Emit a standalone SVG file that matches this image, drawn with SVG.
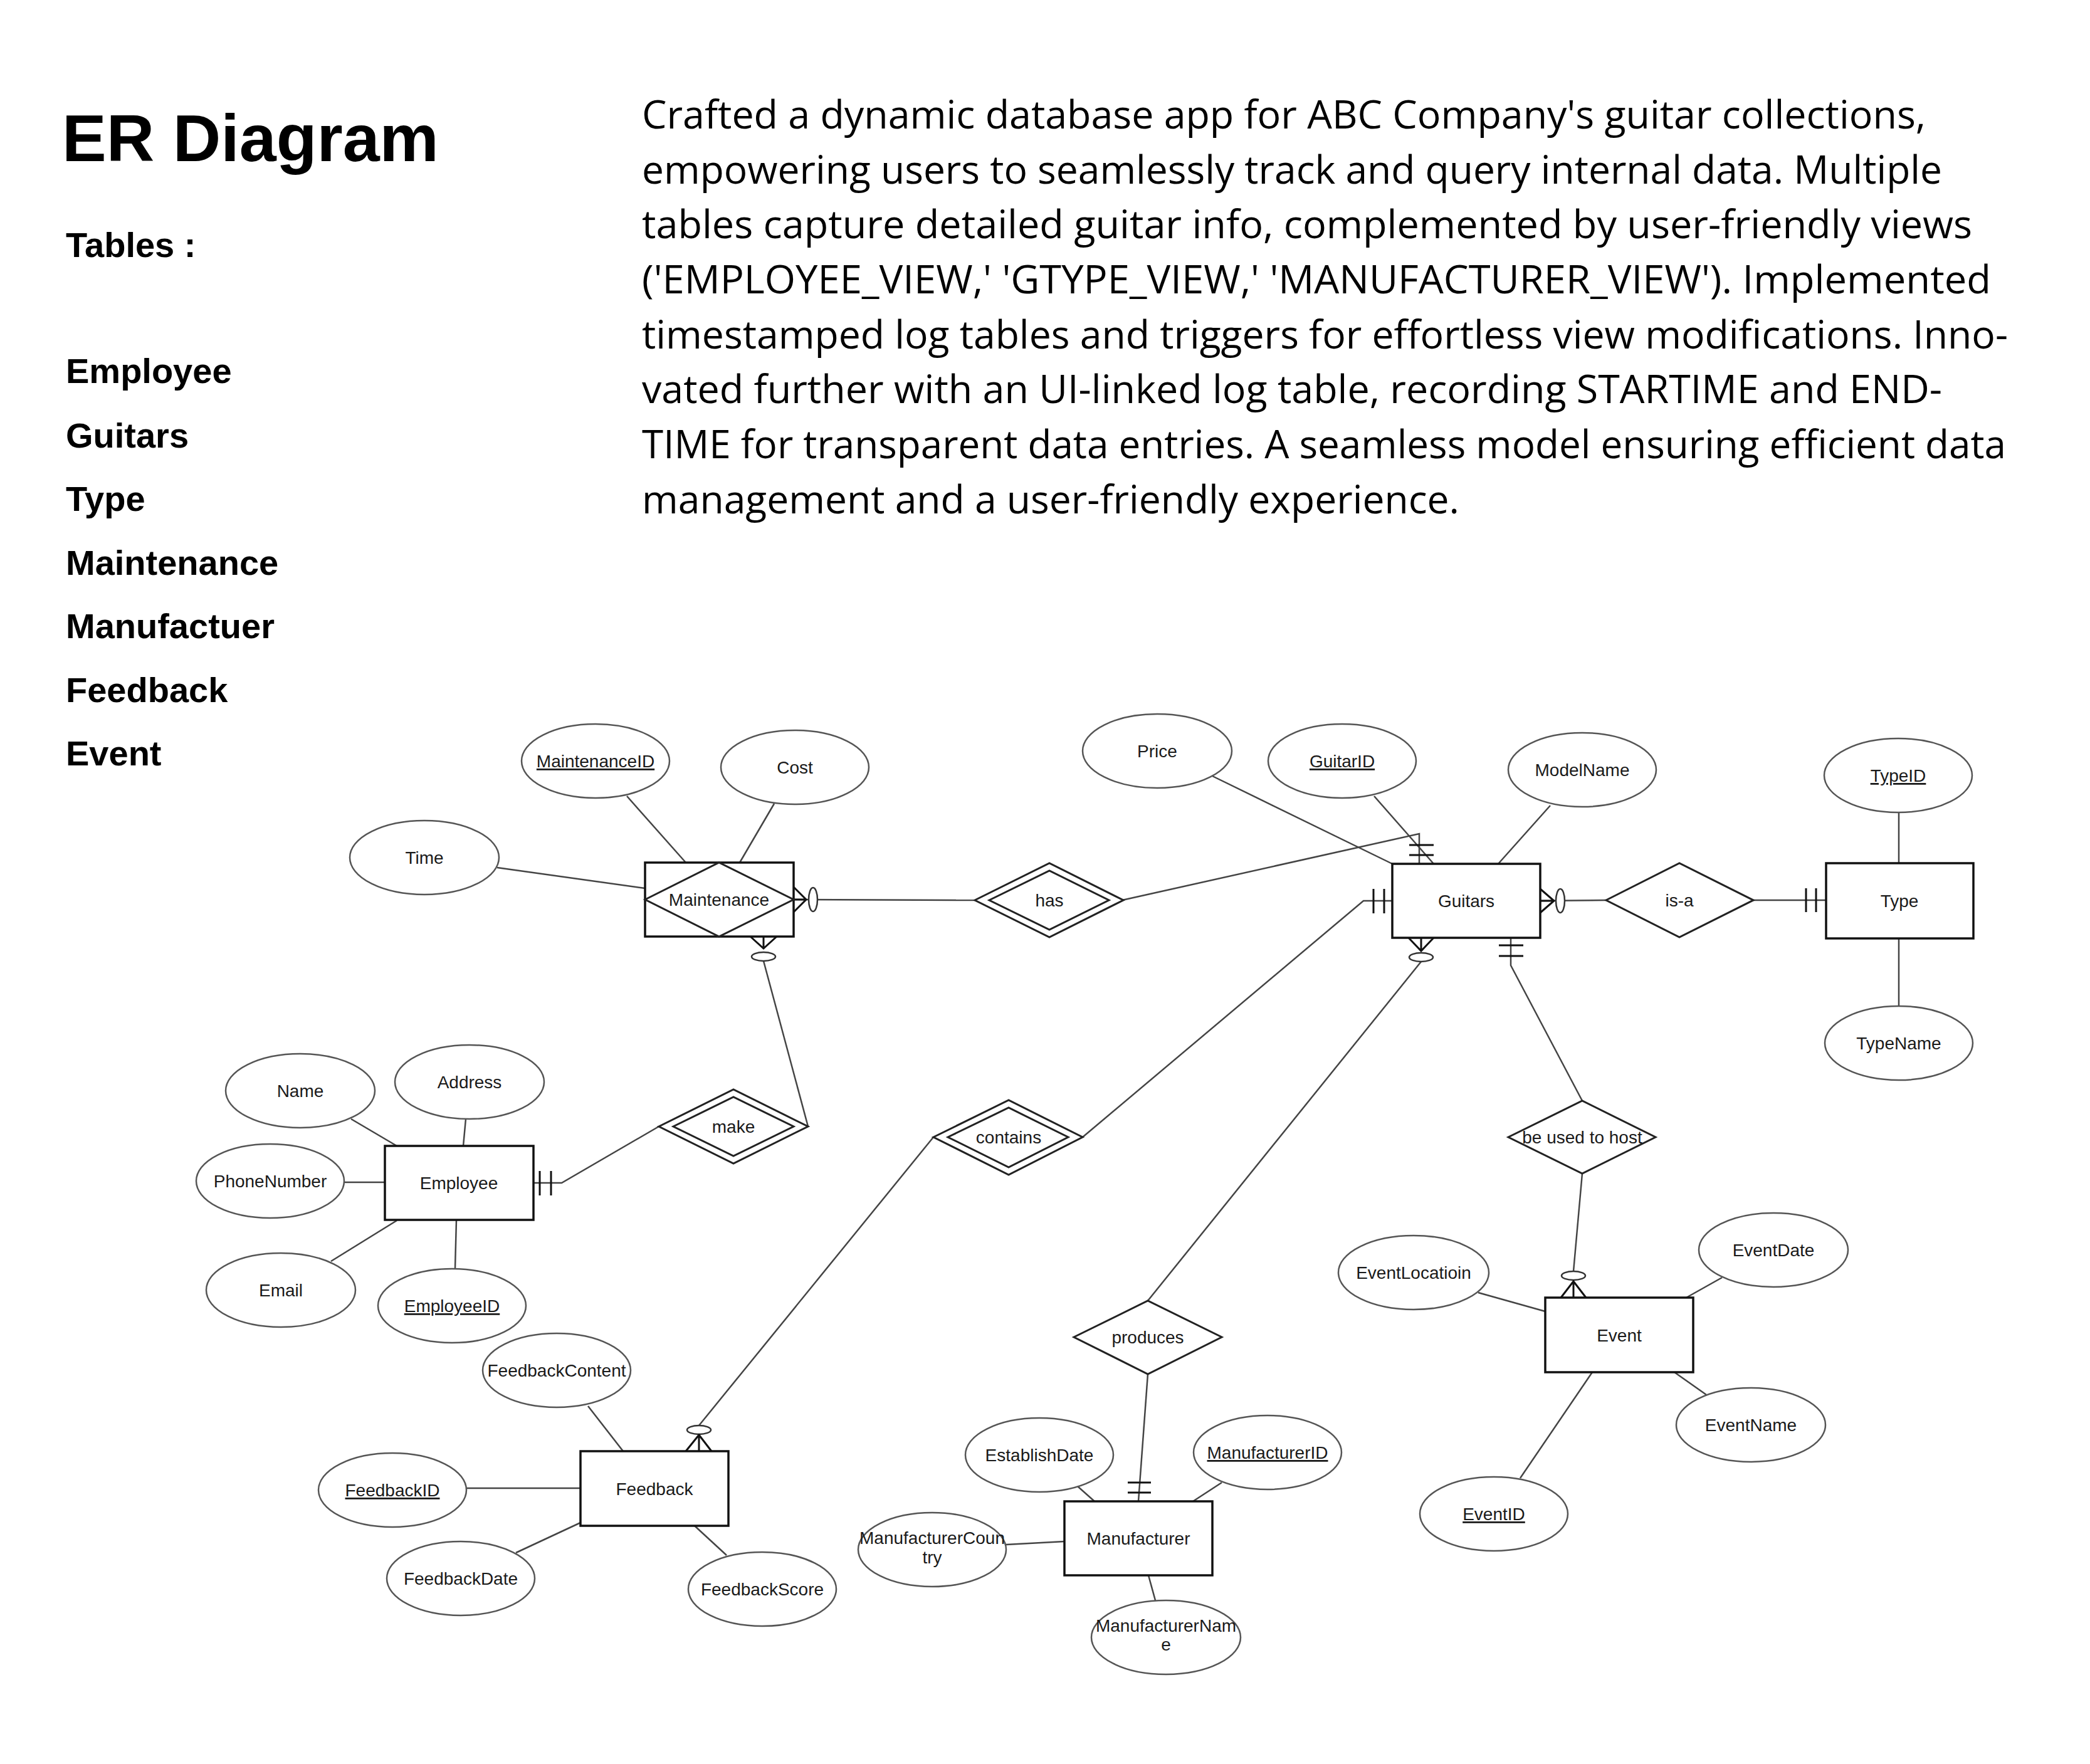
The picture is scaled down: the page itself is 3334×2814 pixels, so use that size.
<svg xmlns="http://www.w3.org/2000/svg" width="3334" height="2814" viewBox="0 0 3334 2814">
<style>
.t{font-family:"Liberation Sans",Arial,sans-serif;font-size:28px;fill:#1a1a1a;text-anchor:middle}
.u{text-decoration:underline}
.attr{fill:#fff;stroke:#555;stroke-width:2.5}
.ent{fill:#fff;stroke:#111;stroke-width:3.5}
.rel{fill:#fff;stroke:#222;stroke-width:3}
.ln{fill:none;stroke:#444;stroke-width:2.5}
.mk{fill:none;stroke:#111;stroke-width:3}
.o{fill:#fff;stroke:#333;stroke-width:2.5}
.side{font-family:"Liberation Sans",Arial,sans-serif;font-weight:bold;fill:#000}
.para{font-family:"Open Sans","Noto Sans",sans-serif;font-size:62px;fill:#000}
</style>
<rect x="0" y="0" width="3334" height="2814" fill="#fff"/>

<g id="heading">
<text class="side" x="99" y="257" font-size="106">ER Diagram</text>
<text class="side" x="105" y="410" font-size="56">Tables :</text>
<text class="side" x="105" y="611" font-size="56">Employee</text>
<text class="side" x="105" y="714" font-size="56">Guitars</text>
<text class="side" x="105" y="815" font-size="56">Type</text>
<text class="side" x="105" y="917" font-size="56">Maintenance</text>
<text class="side" x="105" y="1018" font-size="56">Manufactuer</text>
<text class="side" x="105" y="1120" font-size="56">Feedback</text>
<text class="side" x="105" y="1221" font-size="56">Event</text>
</g>

<g id="description">
<text class="para" x="1024" y="205" textLength="2048" lengthAdjust="spacingAndGlyphs">Crafted a dynamic database app for ABC Company's guitar collections,</text>
<text class="para" x="1024" y="293" textLength="2074" lengthAdjust="spacingAndGlyphs">empowering users to seamlessly track and query internal data. Multiple</text>
<text class="para" x="1024" y="380" textLength="2122" lengthAdjust="spacingAndGlyphs">tables capture detailed guitar info, complemented by user-friendly views</text>
<text class="para" x="1024" y="468" textLength="2152" lengthAdjust="spacingAndGlyphs">('EMPLOYEE_VIEW,' 'GTYPE_VIEW,' 'MANUFACTURER_VIEW'). Implemented</text>
<text class="para" x="1024" y="556" textLength="2179" lengthAdjust="spacingAndGlyphs">timestamped log tables and triggers for effortless view modifications. Inno-</text>
<text class="para" x="1024" y="643" textLength="2074" lengthAdjust="spacingAndGlyphs">vated further with an UI-linked log table, recording STARTIME and END-</text>
<text class="para" x="1024" y="731" textLength="2176" lengthAdjust="spacingAndGlyphs">TIME for transparent data entries. A seamless model ensuring efficient data</text>
<text class="para" x="1024" y="819" textLength="1304" lengthAdjust="spacingAndGlyphs">management and a user-friendly experience.</text>
</g>

<g id="connectors">
<!-- attribute lines -->
<line class="ln" x1="1000" y1="1270" x2="1094" y2="1376"/>
<line class="ln" x1="1235" y1="1282" x2="1180" y2="1376"/>
<line class="ln" x1="793" y1="1384" x2="1029" y2="1417"/>
<line class="ln" x1="1934" y1="1238" x2="2221" y2="1378"/>
<line class="ln" x1="2192" y1="1270" x2="2287" y2="1378"/>
<line class="ln" x1="2473" y1="1285" x2="2390" y2="1378"/>
<line class="ln" x1="3029" y1="1296" x2="3029" y2="1377"/>
<line class="ln" x1="3029" y1="1497" x2="3029" y2="1605"/>
<line class="ln" x1="560" y1="1785" x2="633" y2="1828"/>
<line class="ln" x1="743" y1="1785" x2="739" y2="1828"/>
<line class="ln" x1="549" y1="1886" x2="614" y2="1886"/>
<line class="ln" x1="528" y1="2012" x2="633" y2="1947"/>
<line class="ln" x1="726" y1="2023" x2="728" y2="1946"/>
<line class="ln" x1="938" y1="2243" x2="994" y2="2315"/>
<line class="ln" x1="744" y1="2374" x2="926" y2="2374"/>
<line class="ln" x1="823" y1="2477" x2="926" y2="2429"/>
<line class="ln" x1="1159" y1="2481" x2="1108" y2="2434"/>
<line class="ln" x1="1719" y1="2371" x2="1746" y2="2395"/>
<line class="ln" x1="1949" y1="2365" x2="1903" y2="2395"/>
<line class="ln" x1="1605" y1="2464" x2="1698" y2="2459"/>
<line class="ln" x1="1832" y1="2513" x2="1843" y2="2553"/>
<line class="ln" x1="2358" y1="2062" x2="2465" y2="2092"/>
<line class="ln" x1="2747" y1="2038" x2="2690" y2="2070"/>
<line class="ln" x1="2722" y1="2225" x2="2671" y2="2189"/>
<line class="ln" x1="2425" y1="2358" x2="2540" y2="2189"/>

<!-- Maintenance - has -->
<line class="ln" x1="1266" y1="1435" x2="1555" y2="1436"/>
<path class="mk" d="M1266,1415 L1286,1435 L1266,1455 M1266,1435 L1286,1435"/>
<ellipse class="o" cx="1297" cy="1435" rx="7" ry="19"/>

<!-- has - Guitars -->
<polyline class="ln" points="1790,1436 2264,1330 2264,1378"/>
<path class="mk" d="M2248,1348 L2287,1348 M2248,1364 L2287,1364"/>

<!-- Guitars - is-a -->
<line class="ln" x1="2457" y1="1437" x2="2562" y2="1436"/>
<path class="mk" d="M2457,1418 L2479,1437 L2457,1456 M2457,1437 L2479,1437"/>
<ellipse class="o" cx="2489" cy="1437" rx="7" ry="19"/>

<!-- is-a - Type -->
<line class="ln" x1="2797" y1="1436" x2="2913" y2="1436"/>
<path class="mk" d="M2881,1417 L2881,1455 M2897,1417 L2897,1455"/>

<!-- Guitars - contains -->
<polyline class="ln" points="2221,1437 2175,1437 1727,1814"/>
<path class="mk" d="M2191,1418 L2191,1457 M2208,1418 L2208,1457"/>

<!-- contains - Feedback -->
<line class="ln" x1="1489" y1="1814" x2="1115" y2="2274"/>
<ellipse class="o" cx="1115" cy="2281" rx="19" ry="7"/>
<path class="mk" d="M1094,2315 L1115,2289 L1135,2315 M1115,2289 L1115,2315"/>

<!-- Guitars - produces -->
<line class="ln" x1="2267" y1="1534" x2="1831" y2="2075"/>
<path class="mk" d="M2247,1496 L2267,1517 L2287,1496 M2267,1496 L2267,1517"/>
<ellipse class="o" cx="2267" cy="1527" rx="19" ry="7"/>

<!-- produces - Manufacturer -->
<line class="ln" x1="1831" y1="2192" x2="1816" y2="2395"/>
<path class="mk" d="M1799,2365 L1836,2365 M1799,2381 L1836,2381"/>

<!-- Guitars - be used to host -->
<polyline class="ln" points="2410,1496 2410,1540 2524,1756"/>
<path class="mk" d="M2391,1508 L2430,1508 M2391,1525 L2430,1525"/>

<!-- be used to host - Event -->
<line class="ln" x1="2524" y1="1872" x2="2510" y2="2028"/>
<ellipse class="o" cx="2510" cy="2035" rx="19" ry="7"/>
<path class="mk" d="M2490,2070 L2510,2044 L2530,2070 M2510,2044 L2510,2070"/>

<!-- Employee - make -->
<polyline class="ln" points="851,1887 896,1887 1051,1797"/>
<path class="mk" d="M861,1868 L861,1907 M879,1868 L879,1907"/>

<!-- make - Maintenance -->
<line class="ln" x1="1289" y1="1797" x2="1218" y2="1533"/>
<ellipse class="o" cx="1218" cy="1526" rx="19" ry="7"/>
<path class="mk" d="M1197,1494 L1218,1513 L1239,1494 M1218,1494 L1218,1513"/>
</g>

<g id="maintenance">
<rect class="ent" x="1029" y="1376" width="237" height="118"/>
<polygon class="rel" points="1029,1435 1147,1376 1266,1435 1147,1494"/>
<text class="t" x="1147" y="1445">Maintenance</text>
</g>
<g id="guitars">
<rect class="ent" x="2221" y="1378" width="236" height="118"/>
<text class="t" x="2339" y="1447">Guitars</text>
</g>
<g id="type">
<rect class="ent" x="2913" y="1377" width="235" height="120"/>
<text class="t" x="3030" y="1447">Type</text>
</g>
<g id="employee">
<rect class="ent" x="614" y="1828" width="237" height="118"/>
<text class="t" x="732" y="1897">Employee</text>
</g>
<g id="event">
<rect class="ent" x="2465" y="2070" width="236" height="119"/>
<text class="t" x="2583" y="2140">Event</text>
</g>
<g id="feedback">
<rect class="ent" x="926" y="2315" width="236" height="119"/>
<text class="t" x="1044" y="2385">Feedback</text>
</g>
<g id="manufacturer">
<rect class="ent" x="1698" y="2395" width="236" height="118"/>
<text class="t" x="1816" y="2464">Manufacturer</text>
</g>

<g id="rel-has">
<polygon class="rel" points="1555,1436 1674,1377 1792,1436 1674,1495"/>
<polygon class="rel" points="1578,1436 1674,1389 1769,1436 1674,1483"/>
<text class="t" x="1674" y="1446">has</text>
</g>
<g id="rel-is-a">
<polygon class="rel" points="2562,1436 2679,1377 2797,1436 2679,1495"/>
<text class="t" x="2679" y="1446">is-a</text>
</g>
<g id="rel-make">
<polygon class="rel" points="1051,1797 1170,1738 1289,1797 1170,1856"/>
<polygon class="rel" points="1074,1797 1170,1750 1266,1797 1170,1844"/>
<text class="t" x="1170" y="1807">make</text>
</g>
<g id="rel-contains">
<polygon class="rel" points="1489,1814 1609,1755 1727,1814 1609,1874"/>
<polygon class="rel" points="1512,1814 1609,1767 1704,1814 1609,1862"/>
<text class="t" x="1609" y="1824">contains</text>
</g>
<g id="rel-produces">
<polygon class="rel" points="1713,2133 1831,2075 1949,2133 1831,2192"/>
<text class="t" x="1831" y="2143">produces</text>
</g>
<g id="rel-host">
<polygon class="rel" points="2406,1814 2524,1756 2641,1814 2524,1872"/>
<text class="t" x="2524" y="1824">be used to host</text>
</g>

<g id="attr-maintenanceid"><ellipse class="attr" cx="950" cy="1214" rx="118" ry="59"/><text class="t u" x="950" y="1224">MaintenanceID</text></g>
<g id="attr-cost"><ellipse class="attr" cx="1268" cy="1224" rx="118" ry="59"/><text class="t" x="1268" y="1234">Cost</text></g>
<g id="attr-time"><ellipse class="attr" cx="677" cy="1368" rx="119" ry="59"/><text class="t" x="677" y="1378">Time</text></g>
<g id="attr-price"><ellipse class="attr" cx="1846" cy="1198" rx="119" ry="59"/><text class="t" x="1846" y="1208">Price</text></g>
<g id="attr-guitarid"><ellipse class="attr" cx="2141" cy="1214" rx="118" ry="59"/><text class="t u" x="2141" y="1224">GuitarID</text></g>
<g id="attr-modelname"><ellipse class="attr" cx="2524" cy="1228" rx="118" ry="59"/><text class="t" x="2524" y="1238">ModelName</text></g>
<g id="attr-typeid"><ellipse class="attr" cx="3028" cy="1237" rx="118" ry="59"/><text class="t u" x="3028" y="1247">TypeID</text></g>
<g id="attr-typename"><ellipse class="attr" cx="3029" cy="1664" rx="118" ry="59"/><text class="t" x="3029" y="1674">TypeName</text></g>
<g id="attr-name"><ellipse class="attr" cx="479" cy="1740" rx="119" ry="59"/><text class="t" x="479" y="1750">Name</text></g>
<g id="attr-address"><ellipse class="attr" cx="749" cy="1726" rx="119" ry="59"/><text class="t" x="749" y="1736">Address</text></g>
<g id="attr-phonenumber"><ellipse class="attr" cx="431" cy="1884" rx="118" ry="59"/><text class="t" x="431" y="1894">PhoneNumber</text></g>
<g id="attr-email"><ellipse class="attr" cx="448" cy="2058" rx="119" ry="59"/><text class="t" x="448" y="2068">Email</text></g>
<g id="attr-employeeid"><ellipse class="attr" cx="721" cy="2083" rx="118" ry="59"/><text class="t u" x="721" y="2093">EmployeeID</text></g>
<g id="attr-feedbackcontent"><ellipse class="attr" cx="888" cy="2186" rx="118" ry="59"/><text class="t" x="888" y="2196">FeedbackContent</text></g>
<g id="attr-feedbackid"><ellipse class="attr" cx="626" cy="2377" rx="118" ry="59"/><text class="t u" x="626" y="2387">FeedbackID</text></g>
<g id="attr-feedbackdate"><ellipse class="attr" cx="735" cy="2518" rx="118" ry="59"/><text class="t" x="735" y="2528">FeedbackDate</text></g>
<g id="attr-feedbackscore"><ellipse class="attr" cx="1216" cy="2535" rx="118" ry="59"/><text class="t" x="1216" y="2545">FeedbackScore</text></g>
<g id="attr-establishdate"><ellipse class="attr" cx="1658" cy="2321" rx="118" ry="59"/><text class="t" x="1658" y="2331">EstablishDate</text></g>
<g id="attr-manufacturerid"><ellipse class="attr" cx="2022" cy="2317" rx="118" ry="59"/><text class="t u" x="2022" y="2327">ManufacturerID</text></g>
<g id="attr-manufacturercountry"><ellipse class="attr" cx="1487" cy="2472" rx="118" ry="59"/><text class="t" x="1487" y="2463">ManufacturerCoun</text><text class="t" x="1487" y="2494">try</text></g>
<g id="attr-manufacturername"><ellipse class="attr" cx="1860" cy="2612" rx="119" ry="59"/><text class="t" x="1860" y="2603">ManufacturerNam</text><text class="t" x="1860" y="2633">e</text></g>
<g id="attr-eventlocation"><ellipse class="attr" cx="2255" cy="2030" rx="120" ry="59"/><text class="t" x="2255" y="2040">EventLocatioin</text></g>
<g id="attr-eventdate"><ellipse class="attr" cx="2829" cy="1994" rx="119" ry="59"/><text class="t" x="2829" y="2004">EventDate</text></g>
<g id="attr-eventname"><ellipse class="attr" cx="2793" cy="2273" rx="119" ry="59"/><text class="t" x="2793" y="2283">EventName</text></g>
<g id="attr-eventid"><ellipse class="attr" cx="2383" cy="2415" rx="118" ry="59"/><text class="t u" x="2383" y="2425">EventID</text></g>
</svg>
